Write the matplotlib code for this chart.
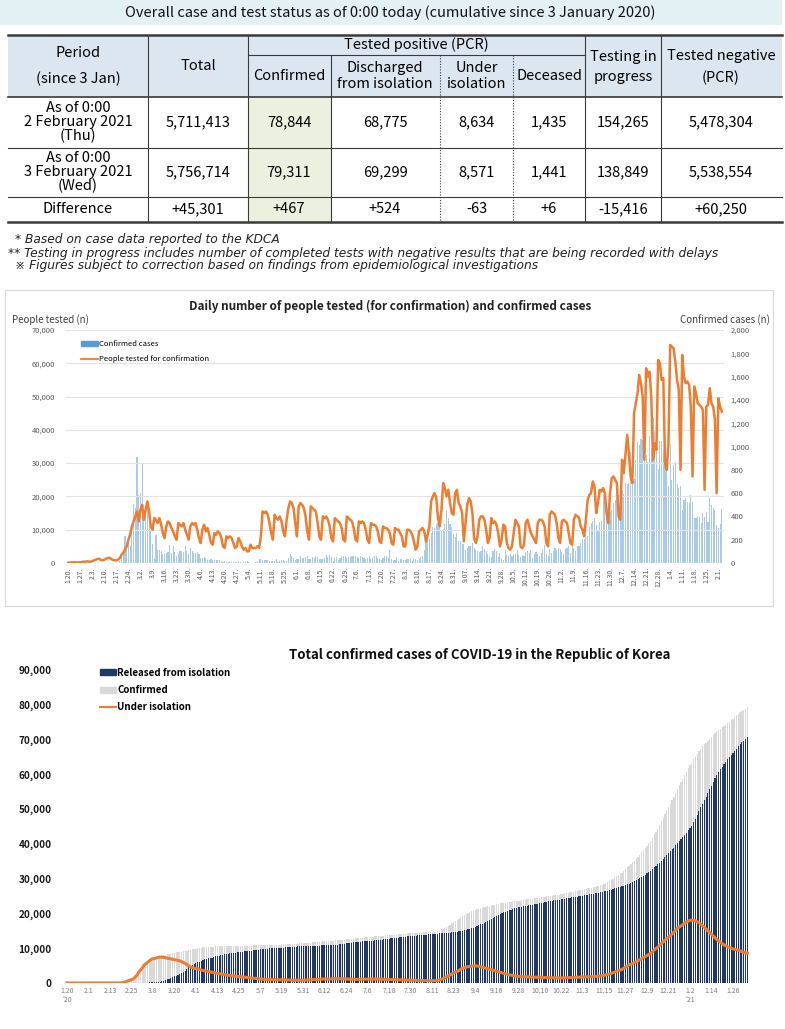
import numpy as np
import matplotlib.pyplot as plt
from matplotlib.patches import Rectangle, Patch
from matplotlib.lines import Line2D
from matplotlib.ticker import FuncFormatter

plt.rcParams['font.family'] = ['Noto Sans CJK KR', 'DejaVu Sans']

# ---------------- table data ----------------
top_title = 'Overall case and test status as of 0:00 today (cumulative since 3 January 2020)'
row_labels = ['As of 0:00\n2 February 2021\n(Thu)', 'As of 0:00\n3 February 2021\n(Wed)', 'Difference']
total = ['5,711,413', '5,756,714', '+45,301']
confirmed = ['78,844', '79,311', '+467']
discharged = ['68,775', '69,299', '+524']
under_iso = ['8,634', '8,571', '-63']
deceased = ['1,435', '1,441', '+6']
in_progress = ['154,265', '138,849', '-15,416']
negative = ['5,478,304', '5,538,554', '+60,250']
notes = ['* Based on case data reported to the KDCA',
         '** Testing in progress includes number of completed tests with negative results that are being recorded with delays',
         '\u203b Figures subject to correction based on findings from epidemiological investigations']

# ---------------- daily data, 2020-01-20 .. 2021-02-03 ----------------
new_cases = [
    1, 0, 0, 0, 1, 0, 1, 1, 0, 0, 3, 4,
    1, 3, 0, 1, 3, 4, 1, 0, 3, 0, 1, 0, 0, 0, 0, 1, 1, 1, 20, 53, 100, 229, 169, 231, 144, 284, 505, 475, 909,
    586, 599, 851, 435, 467, 505, 448, 273, 164, 35, 242, 114, 110, 107, 76, 74, 84, 93, 152, 87, 147, 98, 64, 76, 100, 104, 91, 146, 105, 78, 125,
    101, 89, 86, 94, 81, 47, 47, 53, 39, 27, 30, 32, 25, 27, 27, 22, 22, 18, 8, 13, 9, 11, 8, 6, 10, 10, 10, 14, 9, 4,
    9, 6, 13, 8, 3, 2, 4, 12, 18, 34, 35, 27, 26, 29, 27, 19, 13, 15, 13, 32, 12, 20, 23, 25, 16, 19, 40, 79, 58, 39, 27,
    35, 38, 56, 39, 39, 51, 57, 38, 38, 50, 45, 63, 49, 34, 37, 34, 43, 66, 49, 67, 48, 17, 46, 51, 28, 39, 58, 62, 62, 43,
    51, 54, 63, 63, 61, 48, 44, 63, 50, 45, 35, 44, 62, 33, 39, 61, 60, 39, 34, 26, 45, 63, 59, 41, 113, 35, 25, 28, 48, 18, 36,
    31, 30, 23, 34, 33, 43, 20, 43, 36, 28, 34, 54, 56, 115, 178, 291, 209, 258, 309, 300, 336, 344, 409, 278, 292, 332, 453, 383, 335, 311, 248,
    227, 259, 187, 190, 160, 159, 111, 128, 148, 147, 168, 128, 113, 101, 98, 105, 145, 118, 102, 74, 62, 53, 102, 117, 106, 53, 87, 42, 30, 110,
    65, 63, 75, 64, 73, 75, 114, 69, 54, 72, 58, 97, 102, 84, 110, 47, 73, 91, 76, 58, 89, 121, 155, 77, 61, 119, 88, 103, 125, 114, 127,
    124, 97, 75, 118, 125, 145, 89, 143, 126, 100, 146, 143, 171, 205, 208, 222, 230, 313, 343, 363, 386, 330, 271, 349, 362, 583, 569, 484, 432, 438,
    451, 511, 540, 629, 583, 631, 615, 594, 686, 682, 689, 950, 1030, 718, 880, 1037, 1014, 1064, 1053, 1097, 926, 869, 1092, 985, 1241, 1132, 970, 808, 1045, 1050, 967,
    1029, 824, 657, 1020, 715, 838, 869, 674, 641, 665, 451, 537, 562, 524, 513, 580, 520, 389, 386, 404, 399, 346, 431, 392, 437, 349, 559, 497, 469, 458, 330,
    303, 336, 467]

people_tested = [
    100, 150, 200, 200, 200, 150, 150, 250, 300, 400, 400, 500, 400, 400,
    600, 800, 1000, 1200, 1300, 900, 800, 1000, 1300, 1500, 1600, 1200, 900, 800,
    800, 1000, 1500, 2500, 3000, 4000, 5000, 7000, 8500, 11000, 12500, 14000, 15500, 12500,
    16000, 17500, 13000, 16000, 18500, 15500, 11000, 10000, 13500, 13000, 12000, 13500, 11500, 9000,
    7500, 11000, 12500, 12000, 10500, 9500, 8000, 7000, 12000, 11500, 11000, 12000, 10000, 8500,
    7000, 11000, 12000, 11500, 12000, 10000, 7500, 6000, 10000, 11500, 9500, 10500, 8500, 6000,
    5500, 9000, 8500, 9500, 9000, 7500, 5000, 4500, 8000, 7500, 8000, 7500, 6000, 4500,
    5000, 7500, 6500, 5000, 4000, 4500, 3500, 3500, 5500, 4500, 4500, 4500, 5000, 4500,
    8000, 15500, 15000, 15500, 14500, 12000, 9000, 7000, 14500, 13500, 13000, 14000, 12500, 9500,
    8000, 13000, 16500, 18500, 18000, 16500, 12000, 8000, 17000, 18000, 17500, 16500, 14000, 9500,
    7000, 17000, 16500, 16000, 15500, 12000, 8000, 7000, 14000, 13500, 14000, 13000, 11000, 7500,
    6500, 13500, 13000, 12500, 12000, 10500, 7000, 6500, 14000, 13500, 13000, 12500, 10500, 7000,
    6500, 12500, 12000, 12500, 12000, 10000, 7000, 6000, 12000, 11500, 11500, 11000, 9500, 6500,
    6000, 11000, 10500, 10500, 10000, 9000, 6000, 5500, 10500, 10000, 10000, 9000, 8000, 5000,
    5000, 10000, 10000, 9500, 8500, 6500, 4000, 5000, 9500, 10000, 10500, 9500, 6500, 8500,
    11000, 18500, 20000, 21000, 19500, 13500, 11000, 16000, 24000, 22500, 20000, 22000, 18000, 15000,
    14500, 21000, 22000, 18000, 17000, 15000, 6500, 12000, 17500, 19500, 18500, 15000, 7500, 6000,
    8000, 13000, 14000, 14000, 13000, 10000, 6000, 7500, 13500, 12000, 12500, 11500, 9000, 5000,
    7000, 11500, 11000, 6000, 4500, 4000, 5000, 9000, 13000, 12000, 11000, 5000, 4500, 5500,
    12000, 13000, 11000, 9000, 8000, 7000, 6000, 12000, 13000, 13000, 12500, 11000, 6000, 5000,
    14500, 15500, 15000, 14500, 12000, 7500, 6000, 12500, 13000, 12500, 12000, 9000, 6000, 5500,
    13000, 14500, 14000, 13500, 11000, 10000, 8000, 13000, 19000, 20500, 21000, 24500, 23000, 15000,
    18000, 22000, 21500, 22500, 21000, 15000, 12000, 21000, 25500, 26000, 25000, 24000, 14000, 13000,
    31000, 27000, 32500, 38500, 33000, 26000, 24000, 45000, 48000, 51000, 56500, 54000, 50000, 31000,
    58500, 56000, 57500, 50000, 31000, 36000, 34000, 61000, 60000, 55000, 55500, 30000, 28000, 36000,
    65500, 65000, 64500, 60500, 55000, 52000, 28000, 62500, 56000, 54000, 54500, 53500, 47000, 26000,
    53000, 51000, 48000, 47500, 47000, 46000, 22000, 47000, 47500, 52500, 48000, 47000, 43000, 21000,
    49500, 47000, 45500]

isolated = [
    1, 1, 1, 1, 2, 2, 3, 4, 4, 4, 7, 11, 12, 15, 15, 16, 18, 22, 22, 21,
    24, 23, 21, 21, 21, 20, 19, 20, 21, 21, 41, 94, 186, 415, 584, 805, 942, 1213, 1714, 2180,
    3095, 3674, 4262, 5096, 5515, 5951, 6380, 6780, 6990, 7055, 7212, 7407, 7470, 7402, 7410, 7253, 7150, 7050, 6950, 6850,
    6750, 6650, 6500, 6350, 6150, 5880, 5650, 5350, 4970, 4650, 4450, 4216, 4150, 4050, 3900, 3750, 3590, 3500, 3400, 3300,
    3200, 3125, 3000, 2870, 2750, 2680, 2605, 2500, 2390, 2300, 2230, 2180, 2100, 2030, 1950, 1870, 1800, 1750, 1700, 1650,
    1610, 1593, 1500, 1450, 1380, 1330, 1280, 1180, 1130, 1080, 1040, 1000, 1000, 1000, 980, 970, 960, 950, 940, 930,
    920, 930, 900, 870, 860, 850, 820, 800, 800, 820, 830, 830, 810, 850, 880, 900, 920, 950, 980, 1010,
    1050, 1080, 1100, 1120, 1150, 1160, 1180, 1200, 1220, 1240, 1250, 1260, 1250, 1230, 1200, 1170, 1140, 1110, 1080, 1060,
    1050, 1040, 1030, 1040, 1060, 1080, 1090, 1100, 1110, 1120, 1130, 1140, 1130, 1120, 1110, 1100, 1090, 1080, 1060, 1040,
    1020, 1000, 980, 960, 940, 920, 900, 880, 860, 850, 840, 830, 820, 805, 780, 760, 740, 720, 700, 690,
    680, 670, 660, 650, 640, 650, 680, 740, 850, 1080, 1250, 1470, 1740, 2000, 2290, 2580, 2930, 3140, 3350, 3600,
    3950, 4230, 4430, 4600, 4675, 4760, 4850, 4900, 4930, 4890, 4800, 4650, 4520, 4400, 4250, 4100, 3950, 3800, 3650, 3500,
    3350, 3200, 3050, 2900, 2750, 2620, 2480, 2350, 2250, 2150, 2060, 1980, 1920, 1870, 1829, 1800, 1780, 1760, 1740, 1720,
    1700, 1680, 1660, 1640, 1620, 1600, 1580, 1560, 1540, 1520, 1500, 1480, 1470, 1460, 1450, 1450, 1460, 1480, 1500, 1510,
    1520, 1540, 1560, 1590, 1620, 1656, 1680, 1700, 1720, 1740, 1760, 1780, 1790, 1810, 1830, 1850, 1900, 1960, 2030, 2100,
    2200, 2300, 2420, 2580, 2750, 2950, 3150, 3350, 3500, 3700, 3900, 4250, 4600, 4900, 5200, 5400, 5600, 5850, 6100, 6400,
    6700, 7000, 7300, 7600, 7900, 8200, 8500, 8950, 9500, 9900, 10300, 10800, 11300, 11800, 12300, 12800, 13200, 13600, 14100, 14600,
    15200, 15700, 16100, 16400, 16800, 17200, 17500, 17800, 18000, 18100, 18000, 17900, 17600, 17300, 16900, 16500, 16000, 15500, 15000, 14500,
    14000, 13500, 13000, 12500, 12100, 11700, 11300, 11000, 10700, 10400, 10200, 10000, 9800, 9700, 9600, 9400, 9200, 9000, 8800, 8634,
    8571]

daily_ticks = ['1.20.', '1.27.', '2.3.', '2.10.', '2.17.', '2.24.', '3.2.', '3.9.', '3.16.', '3.23.', '3.30.',
               '4.6.', '4.13.', '4.20.', '4.27.', '5.4.', '5.11.', '5.18.', '5.25.', '6.1.', '6.8.', '6.15.',
               '6.22.', '6.29.', '7.6.', '7.13.', '7.20.', '7.27.', '8.3.', '8.10.', '8.17.', '8.24.', '8.31.',
               '9.07.', '9.14.', '9.21.', '9.28.', '10.5.', '10.12.', '10.19.', '10.26.', '11.2.', '11.9.',
               '11.16.', '11.23.', '11.30.', '12.7.', '12.14.', '12.21.', '12.28.', '1.4.', '1.11.', '1.18.',
               '1.25.', '2.1.']
cum_ticks = ["1.20\n'20", '2.1', '2.13', '2.25', '3.8', '3.20', '4.1', '4.13', '4.25', '5.7', '5.19', '5.31',
             '6.12', '6.24', '7.6', '7.18', '7.30', '8.11', '8.23', '9.4', '9.16', '9.28', '10.10', '10.22',
             '11.3', '11.15', '11.27', '12.9', '12.21', "1.2\n'21", '1.14', '1.26']

days = np.arange(len(new_cases))
total_confirmed = np.cumsum(new_cases)
released = total_confirmed - np.array(isolated)

fig = plt.figure(figsize=(7.85, 10.29), dpi=100)

# background axes in pixel units for the table and free texts
bg = fig.add_axes([0, 0, 1, 1])
bg.set_xlim(0, 785)
bg.set_ylim(1029, 0)
bg.axis('off')

bg.add_patch(Rectangle((0, 0), 782, 25, color='#e4f1f4', lw=0))
bg.text(390, 13, top_title, ha='center', va='center', fontsize=10.5, color='#111111')

# table
bg.add_patch(Rectangle((8, 35), 774, 62, color='#dce6f1', lw=0))
bg.add_patch(Rectangle((248, 97), 83, 125, color='#ebf1de', lw=0))
lc = '#3a3a3a'
bg.plot([8, 782], [35, 35], color=lc, lw=1.8)
bg.plot([8, 782], [97, 97], color=lc, lw=1.2)
bg.plot([8, 782], [148, 148], color=lc, lw=0.8)
bg.plot([8, 782], [197, 197], color=lc, lw=0.8)
bg.plot([8, 782], [222, 222], color=lc, lw=1.8)
bg.plot([248, 585], [55, 55], color=lc, lw=0.8)
for x in [148, 248, 585, 661]:
    bg.plot([x, x], [35, 222], color=lc, lw=0.8)
bg.plot([331, 331], [55, 222], color=lc, lw=0.8)
for x in [440, 513]:
    bg.plot([x, x], [55, 222], color=lc, lw=0.8, ls=(0, (1, 1.5)))

fs = 10.5
bg.text(78, 53, 'Period', ha='center', va='center', fontsize=fs)
bg.text(78, 79, '(since 3 Jan)', ha='center', va='center', fontsize=fs)
bg.text(198, 66, 'Total', ha='center', va='center', fontsize=fs)
bg.text(416, 45, 'Tested positive (PCR)', ha='center', va='center', fontsize=fs)
bg.text(289, 76, 'Confirmed', ha='center', va='center', fontsize=fs)
bg.text(385, 76, 'Discharged\nfrom isolation', ha='center', va='center', fontsize=fs, linespacing=1.15)
bg.text(477, 76, 'Under\nisolation', ha='center', va='center', fontsize=fs, linespacing=1.15)
bg.text(549, 76, 'Deceased', ha='center', va='center', fontsize=fs)
bg.text(623, 67, 'Testing in\nprogress', ha='center', va='center', fontsize=fs, linespacing=1.6)
bg.text(721, 67, 'Tested negative\n(PCR)', ha='center', va='center', fontsize=fs, linespacing=1.6)

row_y = [122, 172, 209]
col_x = [198, 289, 385, 477, 549, 623, 721]
columns = [total, confirmed, discharged, under_iso, deceased, in_progress, negative]
for r, y in enumerate(row_y):
    bg.text(78, y, row_labels[r], ha='center', va='center', fontsize=fs, linespacing=0.95)
    for cx, col in zip(col_x, columns):
        bg.text(cx, y, col[r], ha='center', va='center', fontsize=fs)

note_pos = [(15, 240), (8, 253), (15, 266)]
for (nx, ny), note in zip(note_pos, notes):
    bg.text(nx, ny, note, ha='left', va='center', fontsize=8.8, style='italic',
            family=['DejaVu Sans'], color='#222222')

# ---------------- daily chart ----------------
bg.add_patch(Rectangle((5, 290), 768, 316, fill=False, ec='#d9d9d9', lw=0.8))
bg.text(390, 306, 'Daily number of people tested (for confirmation) and confirmed cases',
        ha='center', va='center', fontsize=8.5, fontweight='bold', color='#222222')
bg.text(12, 320, 'People tested (n)', ha='left', va='center', fontsize=7, color='#404040')
bg.text(770, 320, 'Confirmed cases (n)', ha='right', va='center', fontsize=7, color='#404040')

ax = fig.add_axes([66 / 785, 1 - 563 / 1029, 657.5 / 785, 233 / 1029])
ax2 = ax.twinx()
ax2.bar(days, new_cases, width=0.65, color='#a9cbea', lw=0)
ax.plot(days, people_tested, color='#ed7d31', lw=1.8)
ax.set_zorder(ax2.get_zorder() + 1)
ax.patch.set_visible(False)
ax.set_xlim(-1.3, 381)
ax.set_ylim(0, 70000)
ax2.set_ylim(0, 2000)
ax.set_yticks(np.arange(0, 70001, 10000))
ax2.set_yticks(np.arange(0, 2001, 200))
ax.yaxis.set_major_formatter(FuncFormatter(lambda v, p: f'{int(v):,}'))
ax2.yaxis.set_major_formatter(FuncFormatter(lambda v, p: f'{int(v):,}'))
ax.grid(axis='y', color='#e3e3e3', lw=0.8)
ax.set_xticks(np.arange(0, 381, 7))
ax.set_xticklabels(daily_ticks, rotation=90, fontsize=5, color='#595959')
for a in (ax, ax2):
    for s in a.spines.values():
        s.set_visible(False)
    a.tick_params(length=0, labelsize=5.5, labelcolor='#595959')
ax.tick_params(axis='x', labelsize=5, pad=3)
ax.tick_params(axis='y', pad=8)
ax2.tick_params(axis='y', pad=5)
ax.legend(handles=[Patch(color='#5b9bd5', label='Confirmed cases'),
                   Line2D([], [], color='#ed7d31', lw=1.3, label='People tested for confirmation')],
          loc='upper left', bbox_to_anchor=(0.012, 0.985), frameon=False, fontsize=5.5,
          handlelength=2.2, handleheight=0.5, labelspacing=0.9, handletextpad=0.2)

# ---------------- cumulative chart ----------------
bg.text(480, 655, 'Total confirmed cases of COVID-19 in the Republic of Korea',
        ha='center', va='center', fontsize=9.5, fontweight='bold', color='#111111')

ax3 = fig.add_axes([60 / 785, 1 - 983 / 1029, 705 / 785, 313 / 1029])
ax3.bar(days, total_confirmed, width=0.7, color='#d9d9d9', lw=0)
ax3.bar(days, released, width=0.62, color='#203864', lw=0)
ax3.plot(days, isolated, color='#ed7d31', lw=2.2)
ax3.set_xlim(-3.9, 389.9)
ax3.set_ylim(0, 90000)
ax3.set_yticks(np.arange(0, 90001, 10000))
ax3.yaxis.set_major_formatter(FuncFormatter(lambda v, p: f'{int(v):,}'))
ax3.set_xticks(np.arange(0, 381, 12))
ax3.set_xticklabels(cum_ticks, fontsize=5, color='#7f7f7f', linespacing=1.1)
for s in ax3.spines.values():
    s.set_visible(False)
ax3.tick_params(length=0)
ax3.tick_params(axis='y', labelsize=7.2, pad=6, labelcolor='#1a1a1a')
for t in ax3.get_yticklabels():
    t.set_fontweight('bold')
ax3.tick_params(axis='x', pad=3)
ax3.legend(handles=[Patch(color='#203864', label='Released from isolation'),
                    Patch(color='#d9d9d9', label='Confirmed'),
                    Line2D([], [], color='#ed7d31', lw=1.5, label='Under isolation')],
           loc='upper left', bbox_to_anchor=(0.045, 1.035), frameon=False,
           prop={'weight': 'bold', 'size': 7}, handlelength=1.6, handleheight=0.6,
           labelspacing=0.75, handletextpad=0.1)

fig.savefig('out.png', dpi=100)
